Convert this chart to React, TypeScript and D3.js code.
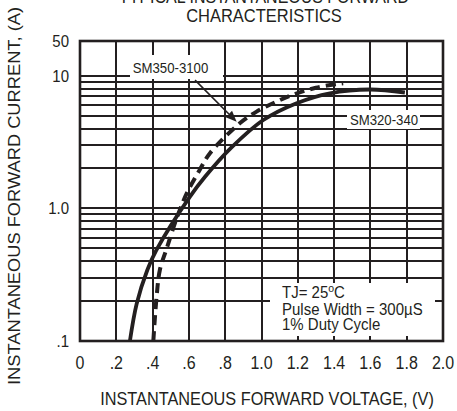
import React from "react";
import * as d3 from "d3";

const W = 457;
const H = 411;

// axis ticks
const xTicks = [0, 0.2, 0.4, 0.6, 0.8, 1.0, 1.2, 1.4, 1.6, 1.8, 2.0];
const xTickLabels = ["0", ".2", ".4", ".6", ".8", "1.0", "1.2", "1.4", "1.6", "1.8", "2.0"];
const yTicks = [0.1, 1, 10, 50];
const yTickLabels = [".1", "1.0", "10", "50"];

// grid
const xGrid = [0.2, 0.4, 0.6, 0.8, 1.0, 1.2, 1.4, 1.6, 1.8];
const yGrid = [0.2, 0.3, 0.4, 0.5, 0.6, 0.7, 0.8, 0.9, 1, 2, 3, 4, 5, 6, 7, 8, 9, 10];

// SM320-340 (solid)
const solidV = [0.275, 0.312, 0.371, 0.42, 0.606, 0.69, 0.832, 1.01, 1.19, 1.377, 1.598, 1.79];
const solidI = [0.1, 0.19, 0.342, 0.48, 1.22, 1.73, 2.85, 4.64, 6.2, 7.4, 7.9, 7.5];

// SM350-3100 (dashed)
const dashV = [0.404, 0.422, 0.44, 0.478, 0.533, 0.588, 0.66, 0.716, 0.88, 0.973, 1.083, 1.18, 1.3, 1.42, 1.45];
const dashI = [0.1, 0.215, 0.342, 0.498, 0.84, 1.29, 1.95, 2.6, 4.38, 5.37, 6.4, 7.27, 8.15, 8.7, 8.8];

const INK = "#231f20";
const FONT = "'Liberation Sans', Arial, Helvetica, sans-serif";
const SY = 1.1; // vertical stretch of the original artwork

const plot = { left: 80, right: 443, top: 41, bottom: 341 };

const x = d3.scaleLinear().domain([0, 2]).range([plot.left, plot.right]);
const yl = d3
  .scaleLinear()
  .domain([-1, 0, 1, Math.log10(50)])
  .range([plot.bottom, 208, 76, plot.top]);
const y = (v: number) => yl(Math.log10(v));

function T({ x0, y0, size, anchor = "middle", children }: any) {
  return (
    <text
      transform={`translate(${x0},${y0}) scale(1,${SY})`}
      fontSize={size}
      fontFamily={FONT}
      textAnchor={anchor}
      fill={INK}
    >
      {children}
    </text>
  );
}

export default function App() {
  const line = d3
    .line<[number, number]>()
    .x((d) => x(d[0]))
    .y((d) => y(d[1]))
    .curve(d3.curveCatmullRom.alpha(0.5));
  const solidPath = line(solidV.map((v, i) => [v, solidI[i]]) as [number, number][]) || "";
  const dashPath = line(dashV.map((v, i) => [v, dashI[i]]) as [number, number][]) || "";

  // arrow from label to dashed curve (data coords)
  const a0 = [x(0.634), y(9.3)];
  const a1 = [x(0.863), y(4.5)];
  const ang = Math.atan2(a1[1] - a0[1], a1[0] - a0[0]);
  const hl = 11, hw = 4.5;
  const bx = a1[0] - hl * Math.cos(ang), by = a1[1] - hl * Math.sin(ang);
  const head = [
    [a1[0], a1[1]],
    [bx + hw * Math.sin(ang), by - hw * Math.cos(ang)],
    [bx - hw * Math.sin(ang), by + hw * Math.cos(ang)],
  ];

  return (
    <svg
      width={W}
      height={H}
      style={{ position: "absolute", left: 0, top: 0, background: "#fff" }}
    >
      <rect width={W} height={H} fill="#fff" />
      {/* title */}
      <T x0={264} y0={3} size={16}>TYPICAL INSTANTANEOUS FORWARD</T>
      <T x0={264} y0={21.5} size={16.5}>CHARACTERISTICS</T>

      {/* grid */}
      <g stroke={INK} strokeWidth={2}>
        {yGrid.map((v) => (
          <line key={"h" + v} x1={plot.left} x2={plot.right} y1={Math.round(y(v))} y2={Math.round(y(v))} />
        ))}
        {xGrid.map((v) => (
          <line key={"v" + v} x1={Math.round(x(v))} x2={Math.round(x(v))} y1={plot.top} y2={plot.bottom} />
        ))}
      </g>

      {/* white label boxes */}
      <rect x={130} y={55} width={93} height={24} fill="#fff" />
      <rect x={347} y={110} width={73} height={19} fill="#fff" />
      <rect x={270} y={283} width={165} height={53} fill="#fff" />

      {/* frame */}
      <rect
        x={plot.left}
        y={plot.top}
        width={plot.right - plot.left}
        height={plot.bottom - plot.top}
        fill="none"
        stroke={INK}
        strokeWidth={2.6}
      />

      {/* curves */}
      <path d={solidPath} fill="none" stroke={INK} strokeWidth={3.8} strokeLinecap="butt" />
      <path d={dashPath} fill="none" stroke={INK} strokeWidth={4} strokeDasharray="10 6" />

      {/* arrow */}
      <line x1={a0[0]} y1={a0[1]} x2={bx} y2={by} stroke={INK} strokeWidth={1.6} />
      <polygon points={head.map((p) => p.join(",")).join(" ")} fill={INK} />

      {/* labels */}
      <T x0={170.5} y0={72.5} size={13.2}>SM350-3100</T>
      <T x0={384} y0={124.5} size={13.2}>SM320-340</T>

      <text transform={`translate(282,298) scale(1,${SY})`} fontSize={15} fontFamily={FONT} fill={INK}>
        TJ= 25<tspan fontSize={10.5} dy={-5.5}>o</tspan>
        <tspan dy={5.5}>C</tspan>
      </text>
      <T x0={282} y0={314.5} size={15} anchor="start">Pulse Width = 300µS</T>
      <T x0={282} y0={329.5} size={15} anchor="start">1% Duty Cycle</T>

      {/* x tick labels */}
      {xTicks.map((v, i) => (
        <T key={"xt" + v} x0={x(v)} y0={369} size={16}>
          {xTickLabels[i]}
        </T>
      ))}
      {/* y tick labels */}
      {yTicks.map((v, i) => (
        <T key={"yt" + v} x0={69} y0={y(v) + 5.5} size={15} anchor="end">
          {yTickLabels[i]}
        </T>
      ))}

      {/* axis titles */}
      <T x0={267} y0={405} size={16.3}>INSTANTANEOUS FORWARD VOLTAGE, (V)</T>
      <text
        transform={`translate(20,196) rotate(-90)`}
        fontSize={16.5}
        fontFamily={FONT}
        textAnchor="middle"
        fill={INK}
        textLength={378}
        lengthAdjust="spacingAndGlyphs"
      >
        INSTANTANEOUS FORWARD CURRENT, (A)
      </text>
    </svg>
  );
}
